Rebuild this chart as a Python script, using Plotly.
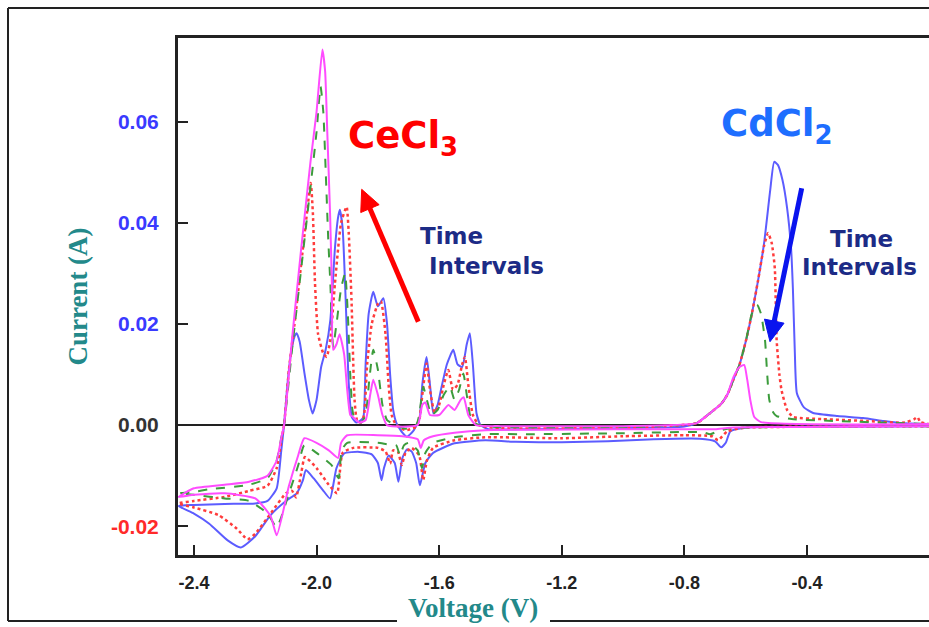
import math
import plotly.graph_objects as go

# ---------------- data ----------------
x_ticks = [-2.4, -2.0, -1.6, -1.2, -0.8, -0.4]
x_tick_text = ['-2.4', '-2.0', '-1.6', '-1.2', '-0.8', '-0.4']
y_ticks = [-0.02, 0.0, 0.02, 0.04, 0.06]
y_tick_text = ['-0.02', '0.00', '0.02', '0.04', '0.06']
y_tick_colors = ['#ff2a2a', '#333333', '#3a3aff', '#3a3aff', '#3a3aff']

# Blue curve: forward (cathodic) sweep 0 -> -2.45 V, then reverse sweep back to 0 V
blue_v = [
    0.0, -0.3, -0.6, -0.65, -0.665, -0.68, -0.70, -0.75, -0.9, -1.05,
    -1.2, -1.35, -1.45, -1.55, -1.62, -1.645, -1.663, -1.675, -1.69, -1.705,
    -1.72, -1.733, -1.745, -1.765, -1.78, -1.788, -1.80, -1.82, -1.86, -1.91,
    -1.935, -1.956, -1.98, -2.01, -2.035, -2.045, -2.065, -2.10, -2.15, -2.20,
    -2.247, -2.29, -2.35, -2.40, -2.45,
    -2.40, -2.30, -2.20, -2.16, -2.13, -2.115, -2.106, -2.095, -2.085, -2.072,
    -2.065, -2.055, -2.04, -2.025, -2.013, -2.0, -1.985, -1.97, -1.955, -1.94,
    -1.93, -1.924, -1.915, -1.905, -1.895, -1.885, -1.87, -1.855, -1.847, -1.84,
    -1.83, -1.815, -1.80, -1.782, -1.77, -1.76, -1.75, -1.74, -1.72, -1.705,
    -1.685, -1.67, -1.663, -1.655, -1.641, -1.63, -1.619, -1.605, -1.592, -1.575,
    -1.554, -1.54, -1.525, -1.51, -1.50, -1.49, -1.478, -1.465, -1.44, -1.30,
    -1.0, -0.80, -0.76, -0.72, -0.68, -0.66, -0.64, -0.62, -0.60, -0.58,
    -0.56, -0.54, -0.52, -0.507, -0.495, -0.48, -0.465, -0.452, -0.446, -0.44,
    -0.433, -0.41, -0.38, -0.30, -0.217, -0.15, -0.096, 0.0]
blue_i = [
    -0.0002, -0.0003, -0.0005, -0.0012, -0.0035, -0.0044, -0.0032, -0.0027, -0.0028, -0.0032,
    -0.0034, -0.0033, -0.0030, -0.0036, -0.0055, -0.0075, -0.0119, -0.0075, -0.0052, -0.0048,
    -0.0065, -0.0112, -0.0075, -0.0060, -0.0085, -0.0109, -0.0075, -0.0058, -0.0053, -0.0056,
    -0.0085, -0.0145, -0.0128, -0.0105, -0.0089, -0.0110, -0.0135, -0.0150, -0.0178, -0.0220,
    -0.0242, -0.0228, -0.0195, -0.0175, -0.0160,
    -0.0158, -0.0156, -0.0155, -0.0150, -0.0125, -0.0050, 0.0, 0.0080, 0.0135, 0.0175,
    0.0182, 0.0165, 0.0105, 0.0050, 0.0023, 0.0050, 0.0115, 0.0150, 0.0208, 0.0350,
    0.0410, 0.0426, 0.0390, 0.0248, 0.0083, 0.0016, 0.0005, 0.0010, 0.0016, 0.0120,
    0.0220, 0.0264, 0.0235, 0.0251, 0.0200, 0.0100, 0.0030, 0.0005, -0.0015, -0.0023,
    -0.0012, 0.0005, 0.0016, 0.0080, 0.0135, 0.0080, 0.0023, 0.0040, 0.0076, 0.0120,
    0.0149, 0.0120, 0.0115, 0.0160, 0.0182, 0.0120, 0.0023, 0.0, -0.0008, -0.0008,
    -0.0006, -0.0003, 0.0004, 0.0022, 0.0042, 0.0060, 0.0090, 0.0120, 0.0165, 0.0220,
    0.0285, 0.0360, 0.0465, 0.0521, 0.0515, 0.0485, 0.0430, 0.0350, 0.0270, 0.0150,
    0.0063, 0.0035, 0.0024, 0.0018, 0.0014, 0.0008, 0.0004, 0.0002]

red_v = [
    0.0, -0.3, -0.6, -0.66, -0.69, -0.71, -0.8, -1.0, -1.2, -1.45,
    -1.55, -1.62, -1.64, -1.652, -1.665, -1.69, -1.71, -1.722, -1.735, -1.75,
    -1.76, -1.775, -1.80, -1.88, -1.915, -1.933, -1.96, -2.0, -2.038, -2.05,
    -2.067, -2.08, -2.10, -2.15, -2.20, -2.225, -2.26, -2.32, -2.40, -2.45,
    -2.40, -2.30, -2.22, -2.16, -2.13, -2.115, -2.106, -2.09, -2.07, -2.05,
    -2.035, -2.019, -2.012, -2.005, -1.995, -1.978, -1.967, -1.955, -1.94, -1.92,
    -1.902, -1.895, -1.886, -1.876, -1.868, -1.855, -1.845, -1.835, -1.82, -1.80,
    -1.79, -1.775, -1.765, -1.755, -1.74, -1.71, -1.68, -1.665, -1.655, -1.641,
    -1.63, -1.615, -1.60, -1.585, -1.57, -1.555, -1.54, -1.525, -1.516, -1.505,
    -1.49, -1.47, -1.40, -1.0, -0.76, -0.72, -0.68, -0.66, -0.64, -0.62,
    -0.60, -0.58, -0.56, -0.54, -0.527, -0.515, -0.505, -0.499, -0.49, -0.483,
    -0.465, -0.445, -0.35, -0.2, -0.08, -0.05, -0.04, -0.03, 0.0]
red_i = [
    -0.0002, -0.0003, -0.0005, -0.0012, -0.0030, -0.0022, -0.0020, -0.0022, -0.0026, -0.0024,
    -0.0030, -0.0045, -0.0070, -0.0109, -0.0060, -0.0045, -0.0055, -0.0079, -0.0052, -0.0050,
    -0.0076, -0.0052, -0.0045, -0.0045, -0.0055, -0.0135, -0.0118, -0.0085, -0.0063, -0.0095,
    -0.0143, -0.0130, -0.0135, -0.0175, -0.0215, -0.0226, -0.0205, -0.0178, -0.0163, -0.0155,
    -0.0150, -0.0142, -0.0130, -0.0120, -0.0085, -0.0030, 0.0, 0.0110, 0.0210, 0.0320,
    0.0400, 0.0479, 0.0420, 0.0280, 0.0180, 0.0142, 0.0135, 0.0170, 0.0280, 0.0400,
    0.0432, 0.0380, 0.0248, 0.0050, 0.0010, 0.0005, 0.0020, 0.0120, 0.0200, 0.0240,
    0.0245, 0.0180, 0.0080, 0.0020, 0.0, -0.0010, -0.0005, 0.0010, 0.0060, 0.0122,
    0.0070, 0.0025, 0.0040, 0.0080, 0.0109, 0.0070, 0.0080, 0.0120, 0.0135, 0.0080,
    0.0020, 0.0, -0.0006, -0.0005, 0.0004, 0.0022, 0.0042, 0.0060, 0.0090, 0.0120,
    0.0165, 0.0220, 0.0285, 0.0355, 0.0380, 0.0360, 0.0310, 0.0168, 0.0100, 0.0069,
    0.0030, 0.0016, 0.0012, 0.0008, 0.0005, 0.0012, 0.0016, 0.0006, 0.0002]

green_v = [
    0.0, -0.3, -0.65, -0.69, -0.716, -0.74, -1.0, -1.3, -1.45, -1.55,
    -1.62, -1.645, -1.656, -1.67, -1.70, -1.715, -1.728, -1.74, -1.77, -1.80,
    -1.90, -1.918, -1.928, -1.95, -2.0, -2.04, -2.06, -2.09, -2.13, -2.16,
    -2.22, -2.30, -2.40, -2.45,
    -2.40, -2.35, -2.22, -2.16, -2.13, -2.115, -2.106, -2.08, -2.05, -2.02,
    -2.0, -1.987, -1.978, -1.97, -1.962, -1.955, -1.946, -1.935, -1.92, -1.907,
    -1.898, -1.89, -1.883, -1.875, -1.855, -1.84, -1.828, -1.815, -1.80, -1.785,
    -1.77, -1.74, -1.71, -1.675, -1.665, -1.652, -1.64, -1.625, -1.605, -1.585,
    -1.565, -1.55, -1.535, -1.521, -1.51, -1.495, -1.47, -1.40, -1.0, -0.76,
    -0.72, -0.68, -0.66, -0.64, -0.62, -0.60, -0.58, -0.563, -0.55, -0.537,
    -0.53, -0.523, -0.51, -0.499, -0.45, -0.3, 0.0]
green_i = [
    -0.0002, -0.0003, -0.0006, -0.0012, -0.0018, -0.0014, -0.0016, -0.0018, -0.0018, -0.0024,
    -0.0035, -0.0055, -0.0085, -0.0050, -0.0035, -0.0040, -0.0060, -0.0040, -0.0038, -0.0035,
    -0.0035, -0.0050, -0.0105, -0.0080, -0.0055, -0.0040, -0.0080, -0.0135, -0.0202, -0.0175,
    -0.0150, -0.0145, -0.0138, -0.0135,
    -0.0132, -0.0127, -0.0118, -0.0105, -0.0070, -0.0025, 0.0, 0.0150, 0.0310, 0.0470,
    0.0580, 0.0670, 0.0620, 0.0500, 0.0370, 0.0280, 0.0155, 0.0200, 0.0270, 0.0300,
    0.0220, 0.0100, 0.0030, 0.0010, 0.0005, 0.0020, 0.0090, 0.0149, 0.0110, 0.0040,
    0.0010, 0.0, -0.0007, 0.0, 0.0020, 0.0076, 0.0050, 0.0020, 0.0030, 0.0060,
    0.0076, 0.0050, 0.0070, 0.0102, 0.0060, 0.0010, 0.0, -0.0004, -0.0004, 0.0004,
    0.0022, 0.0042, 0.0060, 0.0090, 0.0120, 0.0165, 0.0220, 0.0238, 0.0220, 0.0168,
    0.0102, 0.0050, 0.0025, 0.0018, 0.0012, 0.0008, 0.0002]

magenta_v = [
    0.0, -0.65, -0.70, -1.0, -1.45, -1.55, -1.62, -1.65, -1.66, -1.67,
    -1.72, -1.80, -1.90, -1.92, -1.93, -1.96, -2.0, -2.04, -2.06, -2.09,
    -2.13, -2.15, -2.20, -2.30, -2.40, -2.45,
    -2.40, -2.30, -2.22, -2.16, -2.13, -2.115, -2.106, -2.08, -2.05, -2.02,
    -2.0, -1.981, -1.972, -1.965, -1.956, -1.95, -1.946, -1.935, -1.925, -1.91,
    -1.90, -1.89, -1.881, -1.86, -1.84, -1.825, -1.815, -1.80, -1.785, -1.77,
    -1.72, -1.67, -1.655, -1.645, -1.63, -1.60, -1.57, -1.55, -1.53, -1.52,
    -1.505, -1.48, -1.40, -1.0, -0.76, -0.72, -0.68, -0.66, -0.64, -0.62,
    -0.605, -0.595, -0.585, -0.572, -0.55, 0.0]
magenta_i = [
    -0.0002, -0.0005, -0.0008, -0.0008, -0.0010, -0.0015, -0.0022, -0.0030, -0.0045, -0.0028,
    -0.0022, -0.0020, -0.0020, -0.0035, -0.0065, -0.0050, -0.0035, -0.0026, -0.0060, -0.0120,
    -0.0218, -0.0180, -0.0145, -0.0135, -0.0138, -0.0142,
    -0.0125, -0.0118, -0.0112, -0.0100, -0.0070, -0.0025, 0.0, 0.0170, 0.0350, 0.0520,
    0.0620, 0.0743, 0.0700, 0.0580, 0.0420, 0.0280, 0.0149, 0.0160, 0.0180, 0.0140,
    0.0070, 0.0020, 0.0016, 0.0005, 0.0010, 0.0060, 0.0090, 0.0060, 0.0020, 0.0,
    -0.0003, 0.0, 0.0040, 0.0045, 0.0020, 0.0020, 0.0040, 0.0030, 0.0050, 0.0055,
    0.0020, 0.0, -0.0002, -0.0002, 0.0004, 0.0022, 0.0042, 0.0060, 0.0095, 0.0115,
    0.0119, 0.0090, 0.0050, 0.0016, 0.0006, 0.0002]

for a, b in [(blue_v, blue_i), (red_v, red_i), (green_v, green_i), (magenta_v, magenta_i)]:
    assert len(a) == len(b), (len(a), len(b))

# ---------------- layout helpers (pixel -> paper) ----------------
W, H = 929, 627
L, T, B, R = 178, 38, 72, 0
PW, PH = W - L - R, H - T - B


def px(x):
    return (x - L) / PW


def py(y):
    return (H - B - y) / PH


def arrow_shapes(x0, y0, x1, y1, color, width=5, head_len=21, head_half=10):
    """Arrow from pixel (x0, y0) to tip (x1, y1) as a line plus a filled triangle."""
    dx, dy = x1 - x0, y1 - y0
    n = math.hypot(dx, dy)
    ux, uy = dx / n, dy / n
    bx, by = x1 - head_len * ux, y1 - head_len * uy
    nx, ny = -uy, ux
    c1 = (bx + head_half * nx, by + head_half * ny)
    c2 = (bx - head_half * nx, by - head_half * ny)
    path = 'M %f %f L %f %f L %f %f Z' % (px(x1), py(y1), px(c1[0]), py(c1[1]), px(c2[0]), py(c2[1]))
    return [
        dict(type='line', xref='paper', yref='paper', x0=px(x0), y0=py(y0),
             x1=px(bx + 2 * ux), y1=py(by + 2 * uy), line=dict(color=color, width=width)),
        dict(type='path', xref='paper', yref='paper', path=path,
             fillcolor=color, line=dict(color=color, width=1)),
    ]


fig = go.Figure()
line_kw = dict(shape='spline', smoothing=0.5)
fig.add_trace(go.Scatter(x=blue_v, y=blue_i, mode='lines',
                         line=dict(color='#5c5cff', width=2, **line_kw)))
fig.add_trace(go.Scatter(x=red_v, y=red_i, mode='lines',
                         line=dict(color='#ff3c3c', width=2.5, dash='dot', **line_kw)))
fig.add_trace(go.Scatter(x=green_v, y=green_i, mode='lines',
                         line=dict(color='#3c9c3c', width=2, dash='dash', **line_kw)))
fig.add_trace(go.Scatter(x=magenta_v, y=magenta_i, mode='lines',
                         line=dict(color='#ff4cff', width=2, **line_kw)))

y_tick_html = ['<span style="color:%s">%s</span>' % (c, t) for c, t in zip(y_tick_colors, y_tick_text)]

title_font = dict(family='Liberation Serif, Times New Roman, serif', size=27, color='#23898a', weight='bold')

fig.update_layout(
    width=W, height=H, autosize=False,
    margin=dict(l=L, r=R, t=T, b=B, pad=0),
    paper_bgcolor='white', plot_bgcolor='white',
    showlegend=False,
    xaxis=dict(range=[-2.452, -0.002], tickvals=x_ticks, ticktext=x_tick_text,
               ticks='inside', ticklen=10, tickwidth=2, tickcolor='#222',
               showline=True, linecolor='#222', linewidth=3, mirror=True,
               showgrid=False, zeroline=False, ticklabelstandoff=9,
               tickfont=dict(family='Liberation Sans, Arial', size=18, color='#222', weight='bold')),
    yaxis=dict(range=[-0.0257, 0.0766], tickvals=y_ticks, ticktext=y_tick_html,
               ticks='inside', ticklen=10, tickwidth=2, tickcolor='#222',
               showline=True, linecolor='#222', linewidth=3, mirror=False,
               showgrid=False, zeroline=True, zerolinecolor='#222', zerolinewidth=2,
               ticklabelstandoff=12,
               tickfont=dict(family='Liberation Sans, Arial', size=21, color='#333', weight='bold'),
               title=dict(text='Current (A)', font=title_font, standoff=16)),
)

frame = dict(color='#222', width=2)
shapes = [
    dict(type='line', xref='paper', yref='paper', x0=px(8), y0=py(8), x1=px(8), y1=py(621), line=frame),
    dict(type='line', xref='paper', yref='paper', x0=px(8), y0=py(8), x1=px(935), y1=py(8), line=frame),
    dict(type='line', xref='paper', yref='paper', x0=px(8), y0=py(621), x1=px(397), y1=py(621), line=frame),
    dict(type='line', xref='paper', yref='paper', x0=px(550), y0=py(621), x1=px(935), y1=py(621), line=frame),
]
shapes += arrow_shapes(418.3, 321.7, 361.7, 189.3, '#ff0000')
shapes += arrow_shapes(801.7, 188.3, 770.0, 341.7, '#0a14ee')
fig.update_layout(shapes=shapes)

label_font = dict(family='DejaVu Sans, Verdana, sans-serif', size=23, color='#1c2b86', weight='bold')
ann = [
    dict(text='Voltage (V)', x=px(473), y=py(608), xanchor='center', yanchor='middle', font=title_font),
    dict(text='CeCl<sub>3</sub>', x=px(346), y=py(138), xanchor='left', yanchor='middle',
         font=dict(family='DejaVu Sans, Verdana, sans-serif', size=37, color='#ff0000', weight='bold')),
    dict(text='CdCl<sub>2</sub>', x=px(719), y=py(126), xanchor='left', yanchor='middle',
         font=dict(family='DejaVu Sans, Verdana, sans-serif', size=37, color='#1e6eff', weight='bold')),
    dict(text='Time', x=px(418), y=py(236), xanchor='left', yanchor='middle', font=label_font),
    dict(text='Intervals', x=px(427), y=py(266), xanchor='left', yanchor='middle', font=label_font),
    dict(text='Time', x=px(828), y=py(239), xanchor='left', yanchor='middle', font=label_font),
    dict(text='Intervals', x=px(800), y=py(267), xanchor='left', yanchor='middle', font=label_font),
]
for a in ann:
    a.setdefault('xref', 'paper')
    a.setdefault('yref', 'paper')
    a.setdefault('showarrow', False)
fig.update_layout(annotations=ann)

fig.write_html('out.html')
